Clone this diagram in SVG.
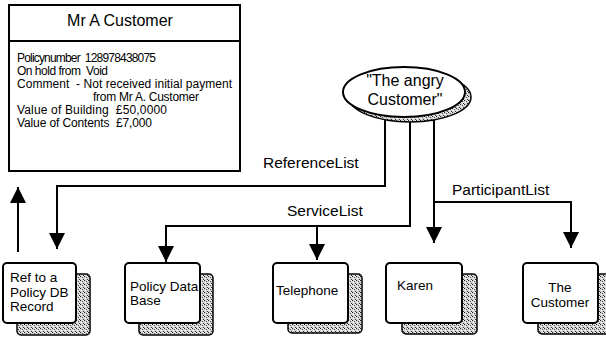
<svg xmlns="http://www.w3.org/2000/svg" width="606" height="337" viewBox="0 0 606 337">
<style>
.ln{fill:none;stroke:#000;stroke-width:2}
.box{fill:#fff;stroke:#000;stroke-width:2}
.t{font-family:"Liberation Sans",Arial,sans-serif;fill:#000}
.body{font-size:12px;white-space:pre}
.lbl{font-size:15.5px}
.nt{font-size:13.5px}
.sh{fill:url(#stip);stroke:#000;stroke-width:1.5}
</style>
<defs>
<pattern id="stip" width="4" height="4" patternUnits="userSpaceOnUse">
<rect width="4" height="4" fill="#d4d4d4"/>
<rect x="0" y="0" width="1" height="1" fill="#222"/>
<rect x="2" y="1" width="1" height="1" fill="#555"/>
<rect x="1" y="2" width="1" height="1" fill="#fff"/>
<rect x="3" y="3" width="1" height="1" fill="#333"/>
<rect x="3" y="0" width="1" height="1" fill="#fff"/>
</pattern>
<marker id="ah" markerUnits="userSpaceOnUse" markerWidth="16" markerHeight="17" viewBox="0 0 16 17" refX="16" refY="8" orient="auto">
<path d="M0,0 L16,8 L0,16 Z" fill="#000"/>
</marker>
</defs>

<g id="mr-a-customer">
<rect class="box" x="9" y="5" width="231" height="166"/>
<line class="ln" x1="9" y1="41" x2="240" y2="41"/>
<text class="t" x="120" y="26" font-size="16" text-anchor="middle">Mr A Customer</text>
<text class="t body" x="17" y="62" textLength="139" lengthAdjust="spacing">Policynumber  128978438075</text>
<text class="t body" x="17" y="75" textLength="91" lengthAdjust="spacing">On hold from  Void</text>
<text class="t body" x="17" y="88" textLength="215" lengthAdjust="spacing">Comment  - Not received initial payment</text>
<text class="t body" x="93" y="101" textLength="106" lengthAdjust="spacing">from Mr A. Customer</text>
<text class="t body" x="17" y="114" textLength="150" lengthAdjust="spacing">Value of Building  £50,0000</text>
<text class="t body" x="17" y="127" textLength="135" lengthAdjust="spacing">Value of Contents  £7,000</text>
</g>

<g id="connectors">
<polyline class="ln" points="18,252 18,187" marker-end="url(#ah)"/>
<polyline class="ln" points="385,110 385,186 57,186 57,249" marker-end="url(#ah)"/>
<polyline class="ln" points="410,110 410,226 166,226 166,262" marker-end="url(#ah)"/>
<polyline class="ln" points="317,226 317,260" marker-end="url(#ah)"/>
<polyline class="ln" points="434,110 434,243" marker-end="url(#ah)"/>
<polyline class="ln" points="434,202 571,202 571,248" marker-end="url(#ah)"/>
<text class="t lbl" x="263" y="168">ReferenceList</text>
<text class="t lbl" x="287" y="216">ServiceList</text>
<text class="t lbl" x="452" y="195">ParticipantList</text>
</g>

<g id="angry-customer">
<ellipse class="sh" cx="410" cy="97" rx="61" ry="25"/>
<ellipse class="box" cx="404" cy="92" rx="61" ry="25"/>
<text class="t" x="405" y="86" font-size="16" text-anchor="middle">"The angry</text>
<text class="t" x="405" y="105" font-size="16" text-anchor="middle">Customer"</text>
</g>

<g id="ref-policy-db">
<rect class="sh" x="17" y="274" width="73" height="61" rx="4"/>
<rect class="box" x="3" y="263" width="73" height="60" rx="4"/>
<text class="t nt" x="10" y="282">Ref to a</text>
<text class="t nt" x="10" y="297">Policy DB</text>
<text class="t nt" x="10" y="311">Record</text>
</g>

<g id="policy-data-base">
<rect class="sh" x="139" y="274" width="74" height="61" rx="4"/>
<rect class="box" x="125" y="263" width="75" height="60" rx="4"/>
<text class="t nt" x="130" y="291">Policy Data</text>
<text class="t nt" x="130" y="305">Base</text>
</g>

<g id="telephone">
<rect class="sh" x="288" y="274" width="74" height="59" rx="4"/>
<rect class="box" x="273" y="263" width="75" height="60" rx="4"/>
<text class="t nt" x="276" y="295">Telephone</text>
</g>

<g id="karen">
<rect class="sh" x="402" y="274" width="75" height="60" rx="4"/>
<rect class="box" x="386" y="263" width="76" height="60" rx="4"/>
<text class="t nt" x="397" y="290">Karen</text>
</g>

<g id="the-customer">
<rect class="sh" x="538" y="274" width="75" height="60" rx="4"/>
<rect class="box" x="523" y="263" width="75" height="60" rx="4"/>
<text class="t nt" x="560" y="292" text-anchor="middle">The</text>
<text class="t nt" x="560" y="307" text-anchor="middle">Customer</text>
</g>
</svg>
